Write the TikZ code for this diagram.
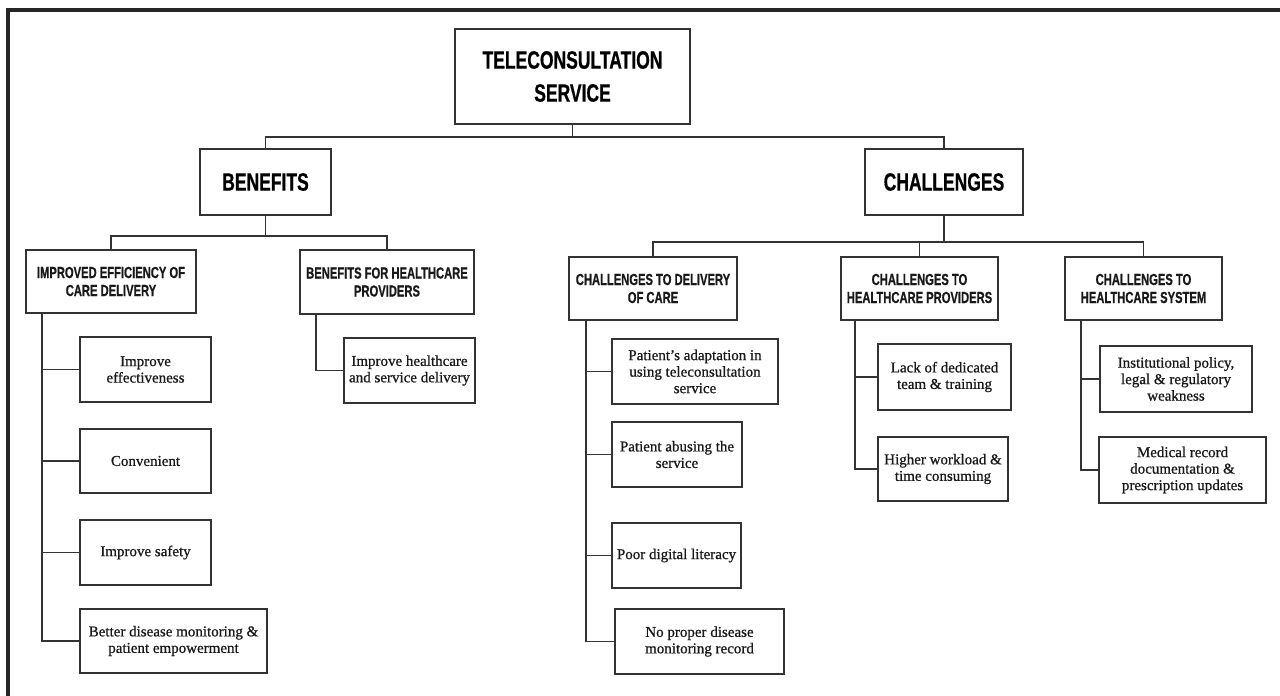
\documentclass[tikz,border=0pt]{standalone}
\usepackage{fontspec}
\setmainfont{Liberation Serif}[FakeBold=0.8]
\newfontfamily\headfont{Liberation Sans}[FakeStretch=0.7,FakeBold=0.6]
\usepackage{tikz}
\usetikzlibrary{positioning}

\begin{document}
\begin{tikzpicture}[x=1pt, y=-1pt,
  top/.style={draw=black!80, line width=1.6pt, fill=white, inner sep=0pt,
              align=center, text=black,
              font=\headfont\bfseries\fontsize{25}{33}\selectfont},
  grp/.style={draw=black!80, line width=1.6pt, fill=white, inner sep=0pt,
              align=center, text=black!90,
              font=\headfont\bfseries\fontsize{16}{18}\selectfont},
  itm/.style={draw=black!80, line width=1.6pt, fill=white, inner sep=0pt,
              align=center, text=black!90,
              font=\fontsize{15}{16.5}\selectfont},
  lnk/.style={draw=black!80, line width=1.8pt}]
\useasboundingbox (0,0) rectangle (1280,696);
% --- frame ---
\draw[line width=3.2pt, black!85] (1280,10) -- (8,10) -- (8,696);
% --- root and the two sides ---
\node[top, minimum width=235pt, minimum height=95pt] (title) at (572.5,76.5)
  {TELECONSULTATION\\SERVICE};
\node[top, minimum width=131pt, minimum height=66pt] (ben) at (265.5,182) {BENEFITS};
\node[top, minimum width=158pt, minimum height=66pt] (chal) at (944,182) {CHALLENGES};
\coordinate (tj) at (572.5,137);
\draw[lnk] (title.south) -- (tj);
\draw[lnk] (tj) -| (ben.north);
\draw[lnk] (tj) -| (chal.north);
% --- benefits ---
\node[grp, minimum width=170pt, minimum height=63pt] (iec) at (111,281.5)
  {IMPROVED EFFICIENCY OF\\CARE DELIVERY};
\node[grp, minimum width=174pt, minimum height=64pt] (bfhp) at (387,282)
  {BENEFITS FOR HEALTHCARE\\PROVIDERS};
\coordinate (bj) at (265.5,236);
\draw[lnk] (ben.south) -- (bj);
\draw[lnk] (bj) -| (iec.north);
\draw[lnk] (bj) -| (bfhp.north);
\node[itm, minimum width=131pt, minimum height=65pt] (b1) at (145.5,369.5)
  {Improve\\effectiveness};
\node[itm, minimum width=131pt, minimum height=64pt] (b2) at (145.5,461) {Convenient};
\node[itm, minimum width=131pt, minimum height=65pt] (b3) at (145.5,552.5) {Improve safety};
\node[itm, minimum width=187pt, minimum height=64pt] (b4) at (173.5,641)
  {Better disease monitoring \&\\patient empowerment};
\node[itm, minimum width=131pt, minimum height=65pt] (b5) at (409.5,370.5)
  {Improve healthcare\\and service delivery};
\foreach \c in {b1,b2,b3,b4}
  \draw[lnk] ([xshift=17pt]iec.south west) |- (\c.west);
\draw[lnk] ([xshift=17pt]bfhp.south west) |- (b5.west);
% --- challenges ---
\node[grp, minimum width=168pt, minimum height=63pt] (ctdc) at (653,288.5)
  {CHALLENGES TO DELIVERY\\OF CARE};
\node[grp, minimum width=157pt, minimum height=63pt] (cthp) at (919.5,288.5)
  {CHALLENGES TO\\HEALTHCARE PROVIDERS};
\node[grp, minimum width=157pt, minimum height=63pt] (cths) at (1143.5,288.5)
  {CHALLENGES TO\\HEALTHCARE SYSTEM};
\coordinate (cj) at (944,242);
\draw[lnk] (chal.south) -- (cj);
\draw[lnk] (cj) -| (ctdc.north);
\draw[lnk] (cj) -| (cthp.north);
\draw[lnk] (cj) -| (cths.north);
\node[itm, minimum width=166pt, minimum height=65pt] (d1) at (695,371.5)
  {Patient's adaptation in\\using teleconsultation\\service};
\node[itm, minimum width=130pt, minimum height=65pt] (d2) at (677,454.5)
  {Patient abusing the\\service};
\node[itm, minimum width=129pt, minimum height=65pt] (d3) at (676.5,555.5)
  {Poor digital literacy};
\node[itm, minimum width=169pt, minimum height=65pt] (d4) at (699.5,641.5)
  {No proper disease\\monitoring record};
\node[itm, minimum width=133pt, minimum height=66pt] (p1) at (944.5,377)
  {Lack of dedicated\\team \& training};
\node[itm, minimum width=130pt, minimum height=64pt] (p2) at (943,469)
  {Higher workload \&\\time consuming};
\node[itm, minimum width=152pt, minimum height=66pt] (s1) at (1176,379)
  {Institutional policy,\\legal \& regulatory\\weakness};
\node[itm, minimum width=167pt, minimum height=66pt] (s2) at (1182.5,470)
  {Medical record\\documentation \&\\prescription updates};
\foreach \c in {d1,d2,d3,d4}
  \draw[lnk] ([xshift=18pt]ctdc.south west) |- (\c.west);
\foreach \c in {p1,p2}
  \draw[lnk] ([xshift=15pt]cthp.south west) |- (\c.west);
\foreach \c in {s1,s2}
  \draw[lnk] ([xshift=17pt]cths.south west) |- (\c.west);
\end{tikzpicture}
\end{document}
